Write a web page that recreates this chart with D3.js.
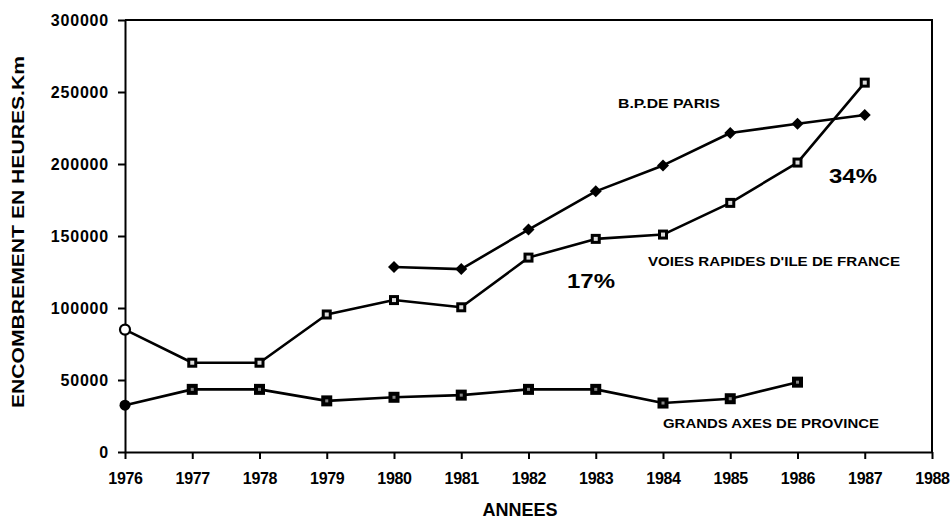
<!DOCTYPE html>
<html>
<head>
<meta charset="utf-8">
<script src="https://cdn.jsdelivr.net/npm/d3@7"></script>
<style>
  body { margin: 0; background: #fff; }
  svg { display: block; font-family: "Liberation Sans", Arial, sans-serif; }
  .axis text { font-size: 16px; font-weight: bold; fill: #000; }
  .axis path, .axis line { stroke: #000; stroke-width: 2px; }
  .lbl { font-weight: bold; fill: #000; }
</style>
</head>
<body>
<div id="chart"></div>
<script>
const years = [1976, 1977, 1978, 1979, 1980, 1981, 1982, 1983, 1984, 1985, 1986, 1987];
const yTicks = [0, 50000, 100000, 150000, 200000, 250000, 300000];
const xTicks = [1976, 1977, 1978, 1979, 1980, 1981, 1982, 1983, 1984, 1985, 1986, 1987, 1988];

// voies rapides d'ile de france
const voiesRapides = [85000, 62000, 62000, 95500, 105500, 100500, 135000, 148000, 151000, 173000, 201000, 256500];
// boulevard peripherique de paris, from 1980
const bpYears = [1980, 1981, 1982, 1983, 1984, 1985, 1986, 1987];
const bpParis = [128500, 127000, 154500, 181000, 199000, 221500, 228000, 234000];
// grands axes de province, 1976-1986
const provYears = [1976, 1977, 1978, 1979, 1980, 1981, 1982, 1983, 1984, 1985, 1986];
const province = [32500, 43500, 43500, 35500, 38000, 39500, 43500, 43500, 34000, 37000, 48500];

const width = 951, height = 519;
const margin = { top: 20, right: 19, bottom: 67, left: 125 };

const svg = d3.select("#chart").append("svg")
  .attr("width", width).attr("height", height);

const x = d3.scaleLinear().domain([1976, 1988]).range([margin.left, width - margin.right]);
const y = d3.scaleLinear().domain([0, 300000]).range([height - margin.bottom, margin.top]);

// frame top + right
svg.append("path")
  .attr("d", `M${x(1976)},${y(300000)}H${x(1988)}V${y(0)}`)
  .attr("fill", "none").attr("stroke", "#000").attr("stroke-width", 2);

svg.append("g").attr("class", "axis")
  .attr("transform", `translate(0,${y(0)})`)
  .call(d3.axisBottom(x).tickValues(xTicks).tickFormat(d3.format("d")).tickSize(7).tickPadding(14).tickSizeOuter(0))
  .selectAll("text").attr("letter-spacing", "-0.3px");

svg.append("g").attr("class", "axis")
  .attr("transform", `translate(${x(1976)},0)`)
  .call(d3.axisLeft(y).tickValues(yTicks).tickFormat(d3.format("d")).tickSize(7).tickPadding(9).tickSizeOuter(0))
  .selectAll("text").attr("letter-spacing", "0.8px");

const line = d3.line().x(d => x(d[0])).y(d => y(d[1]));

function drawSeries(xs, vals) {
  const pts = xs.map((yr, i) => [yr, vals[i]]);
  svg.append("path").datum(pts)
    .attr("d", line)
    .attr("fill", "none").attr("stroke", "#000").attr("stroke-width", 2.6)
    .attr("stroke-linejoin", "round");
  return pts;
}

const vrPts = drawSeries(years, voiesRapides);
const bpPts = drawSeries(bpYears, bpParis);
const prPts = drawSeries(provYears, province);

// open squares (first point is an open circle)
svg.append("g").selectAll("g")
  .data(vrPts)
  .join("g")
  .attr("transform", d => `translate(${x(d[0])},${y(d[1])})`)
  .each(function(d, i) {
    const g = d3.select(this);
    if (i === 0) {
      g.append("circle").attr("r", 5).attr("fill", "#fff").attr("stroke", "#000").attr("stroke-width", 2.2);
    } else {
      g.append("rect").attr("x", -5).attr("y", -5).attr("width", 10).attr("height", 10)
        .attr("fill", "#000");
      g.append("rect").attr("x", -2).attr("y", -2).attr("width", 4).attr("height", 4)
        .attr("fill", "#ddd");
    }
  });

// filled diamonds
svg.append("g").selectAll("path")
  .data(bpPts)
  .join("path")
  .attr("transform", d => `translate(${x(d[0])},${y(d[1])})`)
  .attr("d", "M0,-6L6,0L0,6L-6,0Z")
  .attr("fill", "#000");

// filled squares
svg.append("g").selectAll("g")
  .data(prPts)
  .join("g")
  .attr("transform", d => `translate(${x(d[0])},${y(d[1])})`)
  .each(function(d, i) {
    const g = d3.select(this);
    if (i === 0) {
      g.append("circle").attr("r", 5.5).attr("fill", "#000");
    } else {
      g.append("rect").attr("x", -5.5).attr("y", -5.5).attr("width", 11).attr("height", 11)
        .attr("fill", "#000");
      g.append("rect").attr("x", -1.5).attr("y", -1.5).attr("width", 3).attr("height", 3)
        .attr("fill", "#888");
    }
  });

// annotations
const notes = [
  { text: "B.P.DE PARIS", x: 618, y: 108, size: 13, len: 102 },
  { text: "34%", x: 829, y: 183, size: 21, len: 48 },
  { text: "VOIES RAPIDES D'ILE DE FRANCE", x: 648, y: 266, size: 13, len: 252 },
  { text: "17%", x: 567, y: 288, size: 21, len: 48 },
  { text: "GRANDS AXES DE PROVINCE", x: 663, y: 428, size: 13, len: 216 }
];
svg.append("g").selectAll("text")
  .data(notes)
  .join("text")
  .attr("class", "lbl")
  .attr("x", d => d.x).attr("y", d => d.y)
  .attr("font-size", d => d.size)
  .attr("textLength", d => d.len)
  .attr("lengthAdjust", "spacingAndGlyphs")
  .text(d => d.text);

svg.append("text").attr("class", "lbl")
  .attr("x", 520).attr("y", 516)
  .attr("text-anchor", "middle").attr("font-size", 18)
  .text("ANNEES");

svg.append("text").attr("class", "lbl")
  .attr("transform", "translate(24,232) rotate(-90)")
  .attr("text-anchor", "middle").attr("font-size", 16)
  .attr("textLength", 352).attr("lengthAdjust", "spacingAndGlyphs")
  .text("ENCOMBREMENT EN HEURES.Km");
</script>
</body>
</html>
